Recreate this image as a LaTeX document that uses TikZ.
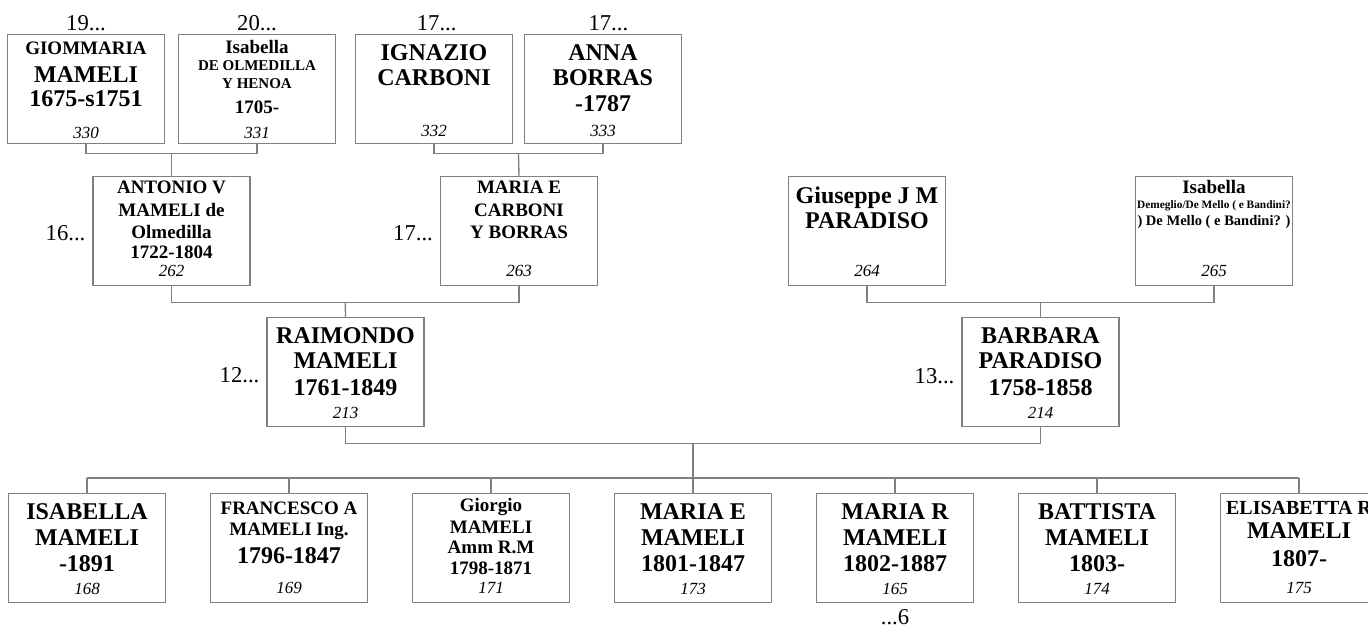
\documentclass[tikz,border=0pt]{standalone}
\usepackage{fontspec}
\setmainfont{Liberation Serif}
\usetikzlibrary{calc}
\definecolor{ln}{RGB}{128,128,128}
\newcommand\fA{\bfseries\fontsize{18}{20}\selectfont}
\newcommand\fB{\bfseries\fontsize{14.25}{16}\selectfont}
\newcommand\fE{\bfseries\fontsize{15}{17}\selectfont}
\newcommand\fC{\bfseries\fontsize{11.25}{13}\selectfont}
\newcommand\fD{\bfseries\fontsize{10.9}{12}\selectfont}
\newcommand\fS{\bfseries\fontsize{8.5}{10}\selectfont}
\newcommand\fN{\itshape\fontsize{12.75}{14}\selectfont}
\newcommand\fL{\fontsize{17}{19}\selectfont}
\newcommand\plines[2]{\foreach \fnt/\txt/\dy [count=\i] in {#2} {\node[anchor=base, inner sep=0pt] (#1-\i) at ([yshift=-\dy*0.75pt]#1.north) {\fnt{}\txt};}}
\tikzset{
  pbox/.style={draw=ln, line width=1pt, minimum width=117.75pt, minimum height=81.75pt, inner sep=0pt, anchor=north},
  conn/.style={draw=ln, line width=1pt},
  lab/.style={font=\fL, inner sep=0pt}
}
\begin{document}
\begin{tikzpicture}[x=0.75pt, y=-0.75pt]
\useasboundingbox (0,0) rectangle (1368,625);
% boxes
\node[pbox] (b330) at (86,34) {};
\node[pbox] (b331) at (257,34) {};
\node[pbox] (b332) at (434,34) {};
\node[pbox] (b333) at (603,34) {};
\node[pbox] (b262) at (171.5,176) {};
\node[pbox] (b263) at (519,176) {};
\node[pbox] (b264) at (867,176) {};
\node[pbox] (b265) at (1214,176) {};
\node[pbox] (b213) at (345.5,317) {};
\node[pbox] (b214) at (1040.5,317) {};
\node[pbox] (b168) at (87,493) {};
\node[pbox] (b169) at (289,493) {};
\node[pbox] (b171) at (491,493) {};
\node[pbox] (b173) at (693,493) {};
\node[pbox] (b165) at (895,493) {};
\node[pbox] (b174) at (1097,493) {};
\node[pbox] (b175) at (1299,493) {};
% texts
\plines{b330}{\fB/GIOMMARIA/20, \fA/MAMELI/48, \fA/1675-s1751/72, \fN/330/104}
\plines{b331}{\fB/Isabella/19, \fC/DE OLMEDILLA/36, \fC/Y HENOA/54, \fB/1705-/79, \fN/331/104}
\plines{b332}{\fA/IGNAZIO/26, \fA/CARBONI/51, \fN/332/102}
\plines{b333}{\fA/ANNA/26, \fA/BORRAS/51, \fA/-1787/77, \fN/333/102}
\plines{b262}{\fB/ANTONIO V/17, \fB/MAMELI de/40, \fB/Olmedilla/62, \fB/1722-1804/82, \fN/262/100}
\plines{b263}{\fB/MARIA E/17, \fB/CARBONI/40, \fB/Y BORRAS/62, \fN/263/100}
\plines{b264}{\fA/Giuseppe J M/27, \fA/PARADISO/52, \fN/264/100}
\plines{b265}{\fB/Isabella/17, \fS/{Demeglio/De Mello ( e Bandini?}/32, \fD/{) De Mello ( e Bandini? )}/49, \fN/265/100}
\plines{b213}{\fA/RAIMONDO/26, \fA/MAMELI/51, \fA/1761-1849/78, \fN/213/101}
\plines{b214}{\fA/BARBARA/26, \fA/PARADISO/51, \fA/1758-1858/78, \fN/214/101}
\plines{b168}{\fA/ISABELLA/26, \fA/MAMELI/52, \fA/-1891/78, \fN/168/101}
\plines{b169}{\fB/FRANCESCO A/21, \fB/MAMELI Ing./42, \fA/1796-1847/70, \fN/169/100}
\plines{b171}{\fB/Giorgio/18, \fB/MAMELI/40, \fB/Amm R.M/60, \fB/1798-1871/81, \fN/171/100}
\plines{b173}{\fA/MARIA E/26, \fA/MAMELI/52, \fA/1801-1847/78, \fN/173/101}
\plines{b165}{\fA/MARIA R/26, \fA/MAMELI/52, \fA/1802-1887/78, \fN/165/101}
\plines{b174}{\fA/BATTISTA/26, \fA/MAMELI/52, \fA/1803-/78, \fN/174/101}
\plines{b175}{\fE/ELISABETTA R/21, \fA/MAMELI/45, \fA/1807-/73, \fN/175/100}
% generation labels
\node[lab, anchor=base] (g330) at ([yshift=3pt]b330.north) {19...};
\node[lab, anchor=base] (g331) at ([yshift=3pt]b331.north) {20...};
\node[lab, anchor=base] (g332) at ([xshift=2pt,yshift=3pt]b332.north) {17...};
\node[lab, anchor=base] (g333) at ([xshift=4pt,yshift=3pt]b333.north) {17...};
\node[lab, anchor=base east] (g262) at ([xshift=-5pt,yshift=-7.1pt]b262.west) {16...};
\node[lab, anchor=base east] (g263) at ([xshift=-5pt,yshift=-7.1pt]b263.west) {17...};
\node[lab, anchor=base east] (g213) at ([xshift=-5pt,yshift=-7.9pt]b213.west) {12...};
\node[lab, anchor=base east] (g214) at ([xshift=-5pt,yshift=-8.6pt]b214.west) {13...};
\node[lab, anchor=base] (g165) at ([yshift=-15.5pt]b165.south) {...6};
% connectors
\coordinate (j1) at ($(b330.south)!0.5!(b331.south)+(0,9)$);
\draw[conn] (b330.south) -- ++(0,9) -| (b331.south);
\draw[conn] (j1) -- (b262.north);
\coordinate (j2) at ($(b332.south)!0.5!(b333.south)+(0,9)$);
\draw[conn] (b332.south) -- ++(0,9) -| (b333.south);
\draw[conn] (j2) -- (b263.north);
\coordinate (j3) at ($(b262.south)!0.5!(b263.south)+(0,16)$);
\draw[conn] (b262.south) -- ++(0,16) -| (b263.south);
\draw[conn] (j3) -- (b213.north);
\coordinate (j4) at ($(b264.south)!0.5!(b265.south)+(0,16)$);
\draw[conn] (b264.south) -- ++(0,16) -| (b265.south);
\draw[conn] (j4) -- (b214.north);
\coordinate (j5) at ($(b213.south)!0.5!(b214.south)+(0,16)$);
\draw[conn] (b213.south) -- ++(0,16) -| (b214.south);
\coordinate (kb) at ($(b173.north)+(0,-15)$);
\draw[conn] (j5) -- (j5 |- kb);
\draw[conn] (b168.north |- kb) -- (b175.north |- kb);
\foreach \c in {b168,b169,b171,b173,b165,b174,b175} \draw[conn] (\c.north) -- (\c.north |- kb);
\end{tikzpicture}
\end{document}
